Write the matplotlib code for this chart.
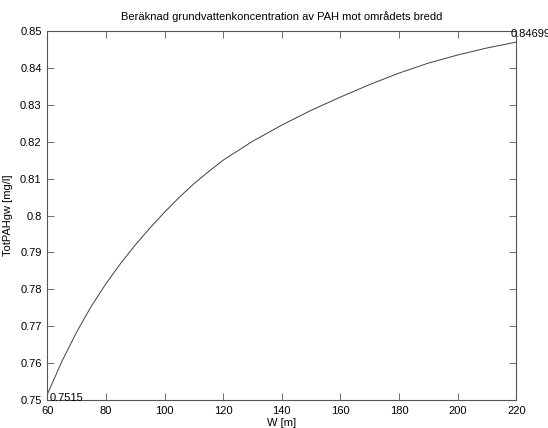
import matplotlib
matplotlib.use("Agg")
import matplotlib.pyplot as plt

# avlästa värden (W i meter, koncentration i mg/l)
w = [60, 65, 70, 75, 80, 85, 90, 95, 100, 105, 110, 115, 120,
     130, 140, 150, 160, 170, 180, 190, 200, 210, 220]
tot_pah = [0.7515, 0.7605, 0.7684, 0.7754, 0.7815, 0.7870, 0.7920, 0.7966, 0.8009,
           0.8049, 0.8086, 0.8119, 0.8150, 0.8201, 0.8245, 0.8285, 0.8321, 0.8355,
           0.8386, 0.8413, 0.8435, 0.8454, 0.84699]
xticks = [60, 80, 100, 120, 140, 160, 180, 200, 220]
yticks = [0.75, 0.76, 0.77, 0.78, 0.79, 0.8, 0.81, 0.82, 0.83, 0.84, 0.85]
ytick_labels = ["0.75", "0.76", "0.77", "0.78", "0.79", "0.8", "0.81", "0.82", "0.83", "0.84", "0.85"]

plt.rcParams['font.family'] = ['Liberation Sans', 'DejaVu Sans']
plt.rcParams['font.size'] = 8

fig = plt.figure(figsize=(5.48, 4.28), dpi=100)
ax = fig.add_axes([47.3 / 548, (428 - 400) / 428, 469 / 548, 369 / 428])

ax.plot(w, tot_pah, color='#404040', lw=0.7)

ax.set_xlim(60, 220)
ax.set_ylim(0.75, 0.85)
ax.set_xticks(xticks)
ax.set_yticks(yticks)
ax.set_yticklabels(ytick_labels)
ax.tick_params(direction='in', length=5, width=0.6, color='#555555',
               top=True, right=True, labelsize=8)
ax.tick_params(axis='x', pad=4)
ax.tick_params(axis='y', pad=4)
for s in ax.spines.values():
    s.set_color('#555555')
    s.set_linewidth(0.8)

ax.set_title("Beräknad grundvattenkoncentration av PAH mot områdets bredd", fontsize=8, pad=8)
ax.set_xlabel("W [m]", fontsize=8, labelpad=2)
ax.set_ylabel("TotPAHgw [mg/l]", fontsize=8, labelpad=5)

# etiketter vid ändpunkterna
ax.annotate("0.7515", (w[0], tot_pah[0]), xytext=(2, -4), textcoords='offset pixels',
            ha='left', va='center', fontsize=8, annotation_clip=False)
ax.annotate("0.84699", (w[-1], tot_pah[-1]), xytext=(-6, 8), textcoords='offset pixels',
            ha='left', va='center', fontsize=8, annotation_clip=False)

fig.savefig("out.png", dpi=100)
